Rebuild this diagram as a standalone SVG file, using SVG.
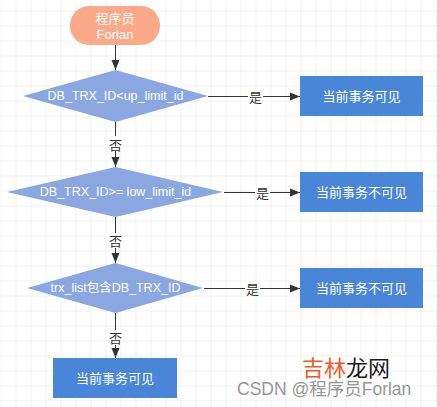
<svg xmlns="http://www.w3.org/2000/svg" width="437" height="407" viewBox="0 0 437 407">
<defs>
<pattern id="grid" x="0" y="10" width="15" height="15" patternUnits="userSpaceOnUse">
<path d="M0 0H15M0 0V15" fill="none" stroke="#e6e6e6" stroke-width="1"/>
</pattern>
<marker id="arr" viewBox="0 0 10 10" refX="10" refY="5" markerWidth="10" markerHeight="10" markerUnits="userSpaceOnUse" orient="auto">
<path d="M0 1L10 5L0 9Z" fill="#333"/>
</marker>
</defs>
<style>
.t{font-family:"Liberation Sans","Noto Sans CJK SC",sans-serif;font-size:13px;fill:#fff;text-anchor:middle;dominant-baseline:central}
.d{font-size:12.5px}
.dia{fill:#8aa7e2}
.box{fill:#4a86d8}
.ln{stroke:#333;stroke-width:1;fill:none}
.lb{font-family:"Noto Sans CJK SC",sans-serif;font-size:13px;fill:#333;text-anchor:middle;dominant-baseline:central}
.lbg{fill:#fff}
</style>
<rect width="437" height="407" fill="#fff"/>
<rect width="437" height="407" fill="url(#grid)" transform="translate(0.5,0.5)"/>
<g id="connectors">
<line class="ln" x1="115.5" y1="45" x2="115.5" y2="70" marker-end="url(#arr)"/>
<line class="ln" x1="115.5" y1="122" x2="115.5" y2="167" marker-end="url(#arr)"/>
<rect class="lbg" x="108" y="136" width="15" height="15"/>
<text class="lb" x="115.5" y="144">否</text>
<line class="ln" x1="115.5" y1="217" x2="115.5" y2="263" marker-end="url(#arr)"/>
<rect class="lbg" x="108" y="233" width="15" height="15"/>
<text class="lb" x="115.5" y="240">否</text>
<line class="ln" x1="115.5" y1="313" x2="115.5" y2="358" marker-end="url(#arr)"/>
<rect class="lbg" x="108" y="330" width="15" height="15"/>
<text class="lb" x="115.5" y="337">否</text>
<line class="ln" x1="208" y1="96.5" x2="300" y2="96.5" marker-end="url(#arr)"/>
<rect class="lbg" x="248" y="89" width="15" height="15"/>
<text class="lb" x="255.5" y="96.5">是</text>
<line class="ln" x1="224" y1="192.5" x2="300" y2="192.5" marker-end="url(#arr)"/>
<rect class="lbg" x="255" y="185" width="15" height="15"/>
<text class="lb" x="262.5" y="192.5">是</text>
<line class="ln" x1="204" y1="288.5" x2="300" y2="288.5" marker-end="url(#arr)"/>
<rect class="lbg" x="245" y="281" width="15" height="15"/>
<text class="lb" x="252.5" y="288.5">是</text>
</g>
<g id="start">
<rect x="70" y="6" width="90" height="39" rx="19" fill="#fca98a"/>
<text class="t" x="115" y="18">程序员</text>
<text class="t" x="115" y="34">Forlan</text>
</g>
<g id="d1">
<polygon class="dia" points="115.5,70 208,96 115.5,122 23,96"/>
<text class="t d" x="115.5" y="96">DB_TRX_ID&lt;up_limit_id</text>
</g>
<g id="d2">
<polygon class="dia" points="115.5,167 223,192 115.5,217 7,192"/>
<text class="t d" x="115.5" y="192">DB_TRX_ID&gt;= low_limit_id</text>
</g>
<g id="d3">
<polygon class="dia" points="115.5,263 203,288 115.5,313 27,288"/>
<text class="t d" x="115.5" y="288">trx_list包含DB_TRX_ID</text>
</g>
<g id="b1">
<rect class="box" x="300" y="76" width="123" height="40"/>
<text class="t" x="361.5" y="96">当前事务可见</text>
</g>
<g id="b2">
<rect class="box" x="300" y="172" width="123" height="40"/>
<text class="t" x="361.5" y="192">当前事务不可见</text>
</g>
<g id="b3">
<rect class="box" x="300" y="268" width="123" height="40"/>
<text class="t" x="361.5" y="288">当前事务不可见</text>
</g>
<g id="b4">
<rect class="box" x="53" y="358" width="124" height="40"/>
<text class="t" x="115" y="378">当前事务可见</text>
</g>
<g id="watermark">
<text x="302" y="376" font-family="Noto Sans CJK SC,sans-serif" font-size="22"><tspan fill="#f05a28">吉林</tspan><tspan fill="#1a1a1a">龙网</tspan></text>
<text x="237" y="395" font-family="Liberation Sans,Noto Sans CJK SC,sans-serif" font-size="17.5" fill="#888" fill-opacity="0.9">CSDN @程序员Forlan</text>
</g>
</svg>
